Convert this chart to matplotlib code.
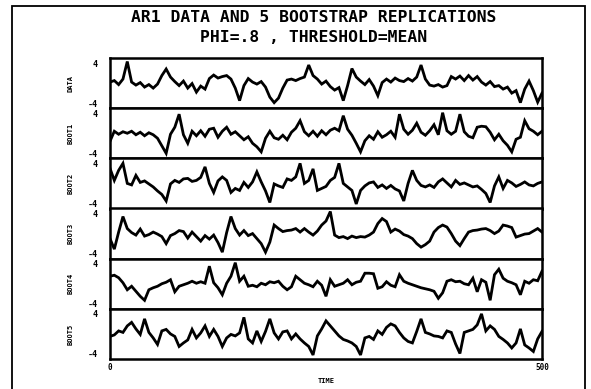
import matplotlib
matplotlib.use("Agg")
import matplotlib.pyplot as plt
from matplotlib.patches import Rectangle
import numpy as np

time = np.arange(0, 501, 5)

data = [0.2, 0.5, -0.3, 0.8, 4.3, 0.2, -0.4, 0.1, -0.8, -0.3,
        -1.0, -0.2, 1.5, 2.8, 1.2, 0.3, -0.5, 0.4, -1.0, -0.1,
        -1.8, -0.6, -1.2, 0.9, 1.6, 1.0, 1.3, 1.5, 0.8, -1.0,
        -3.5, -0.5, 0.9, 0.2, -0.2, 0.3, -0.8, -2.8, -3.9, -3.0,
        -1.0, 0.6, 0.8, 0.5, 0.9, 1.2, 3.6, 1.5, 0.8, -0.2,
        0.4, -0.7, -1.4, -0.9, -3.5, -0.5, 2.9, 1.2, 0.4, -0.3,
        0.7, -0.6, -2.5, 0.1, 0.8, 0.2, 1.0, 0.5, 0.3, 0.9,
        0.4, 1.2, 3.6, 0.8, -0.4, -0.6, -0.3, -0.8, -0.5, 1.3,
        0.8, 1.4, 0.5, 1.5, 0.6, 1.3, 0.2, -0.4, 0.3, -0.7,
        -0.5, -1.2, -0.8, -2.0, -1.5, -3.9, -1.2, 0.4, -1.5, -3.8,
        -2.0]

boot1 = [-1.6, 0.4, -0.2, 0.3, 0.0, 0.4, -0.3, 0.2, -0.5, 0.1,
         -0.3, -1.0, -2.5, -4.0, -0.2, 1.2, 3.8, -0.3, -2.0, 0.4,
         -0.5, 0.5, -0.6, 0.8, 1.0, -0.8, 0.4, 1.2, -0.2, 0.3,
         -0.5, -1.3, -0.7, -2.0, -2.7, -3.7, -1.0, 0.4, -0.9, -1.2,
         -0.4, -1.3, 0.2, 1.0, 2.5, 0.3, -0.5, 0.4, -0.6, 0.5,
         -0.3, 0.6, 1.0, 0.5, 3.5, 0.8, -0.4, -2.0, -3.7, -1.5,
         -0.5, -1.2, 0.3, -0.8, -0.3, 0.4, -0.8, 3.8, 0.8, -0.2,
         0.6, 2.0, 0.2, -0.4, 0.5, 1.7, -0.3, 4.1, 0.5, -0.2,
         0.4, 3.8, 0.3, -0.6, -0.9, 1.2, 1.4, 1.3, 0.2, -1.3,
         -0.2, -1.5, -2.4, -3.7, -1.2, -0.8, 2.5, 0.9, 0.4, -0.3,
         0.4]

boot2 = [3.0, 0.6, 2.6, 4.0, 0.0, -0.3, 1.6, 0.2, 0.5, -0.1,
         -0.7, -1.5, -2.2, -3.5, -0.1, 0.6, 0.2, 0.9, 1.0, 0.4,
         0.6, 1.2, 3.3, 0.0, -1.8, 0.5, 1.3, 0.6, -1.8, -1.0,
         -1.4, 0.2, -0.8, 0.3, 2.3, 0.3, -1.5, -3.8, -0.1, -0.5,
         -0.8, 0.9, 0.6, 1.3, 4.0, 0.0, 0.6, 2.9, -1.4, -1.0,
         -0.6, 0.6, 1.2, 4.0, 0.0, -0.7, -1.4, -4.1, -1.4, -0.5,
         0.1, 0.3, -0.8, -0.3, -1.0, -0.4, -1.1, -1.5, -3.5, 0.0,
         2.6, 0.6, -0.4, -0.7, -0.3, -0.8, 0.3, 0.9, 0.1, -0.7,
         0.6, -0.2, 0.1, -0.3, -0.7, -0.5, -1.2, -2.0, -3.8, -0.5,
         1.3, -1.0, 0.6, 0.1, -0.6, -0.2, 0.3, -0.3, -0.5, 0.0,
         0.3]

boot3 = [-1.0, -3.1, 0.3, 3.4, 1.0, 0.2, -0.3, 0.9, -0.5, -0.2,
         0.3, -0.1, -0.6, -2.0, -0.4, 0.0, 0.6, 0.4, -0.9, 0.3,
         -0.6, -1.5, -0.4, -1.1, -0.3, -1.8, -3.7, 0.2, 3.4, 1.0,
         -0.3, 0.6, -0.4, 0.0, -1.0, -2.0, -3.7, -1.7, 1.7, 1.0,
         0.4, 0.6, 0.7, 1.0, 0.3, 1.0, 0.3, -0.3, 0.5, 1.7,
         2.5, 4.4, -0.3, -0.8, -0.6, -1.0, -0.5, -0.8, -0.6, -0.7,
         -0.3, 0.3, 2.0, 3.0, 2.4, 0.3, 0.9, 0.5, -0.2, -0.5,
         -1.0, -2.0, -2.7, -2.2, -1.5, 0.3, 1.2, 1.7, 1.3, 0.0,
         -1.5, -2.4, -1.0, 0.3, 0.6, 0.7, 0.9, 1.0, 0.6, 0.0,
         0.5, 1.7, 1.5, 1.2, -0.7, -0.4, -0.1, 0.0, 0.5, 1.0,
         0.3]

boot4 = [1.5, 1.7, 1.2, 0.2, -1.2, -0.5, -1.5, -2.5, -3.3, -1.2,
         -0.8, -0.5, 0.0, 0.3, 0.8, -1.6, -0.5, -0.2, 0.1, 0.5,
         0.1, 0.4, 0.1, 3.5, 0.2, -0.8, -2.2, 0.1, 1.5, 4.2,
         0.5, 1.5, -0.5, -0.3, -0.6, 0.1, -0.2, 0.4, 0.2, 0.5,
         -0.5, -1.2, -0.6, 1.5, 0.8, 0.1, -0.2, -0.6, 0.5, -0.3,
         -2.5, 0.8, -0.5, -0.2, 0.1, 0.8, -0.2, 0.3, 0.5, 2.1,
         2.1, 2.0, -0.9, -0.6, 0.4, -0.3, -0.6, 1.8, 0.5, 0.1,
         -0.2, -0.5, -0.8, -1.0, -1.2, -1.5, -2.9, -1.8, 0.5, 0.8,
         0.4, 0.5, 0.0, -0.2, 1.1, -1.6, 0.8, 0.3, -3.3, 1.8,
         2.9, 1.1, 0.5, 0.2, -0.2, -2.2, 0.5, 0.1, 0.8, 0.6,
         2.5]

boot5 = [-0.5, -0.2, 0.6, 0.3, 1.6, 2.3, 1.0, -0.1, 3.0, 0.3,
         -0.8, -2.1, 0.6, 0.9, 0.0, -0.5, -2.5, -1.8, -1.2, 0.9,
         -0.8, 0.2, 1.6, -0.5, 0.9, -0.5, -2.5, -0.8, -0.1, -0.4,
         0.2, 3.3, -1.0, -1.8, 0.6, -1.5, 0.5, 3.0, 0.2, -1.0,
         0.4, 0.6, -1.0, 0.0, -1.0, -1.8, -2.5, -4.2, -0.4, 1.0,
         2.6, 1.6, 0.6, -0.4, -1.1, -1.4, -1.8, -2.5, -4.2, -0.8,
         -0.5, -1.1, 0.6, -0.1, 1.3, 2.0, 1.6, 0.3, -0.8, -1.5,
         -1.8, 0.5, 3.0, 0.3, 0.0, -0.4, -0.5, -0.8, 0.6, 0.3,
         -2.0, -3.9, 0.3, 0.6, 0.9, 1.8, 4.0, 0.6, 1.6, 0.9,
         -0.5, -1.1, -1.8, -2.8, -1.8, 1.0, -2.2, -2.8, -3.5, -1.0,
         0.5]

series = [data, boot1, boot2, boot3, boot4, boot5]
panel_labels = ["DATA", "BOOT1", "BOOT2", "BOOT3", "BOOT4", "BOOT5"]
y_ticks = [-4, 4]
x_ticks = [0, 500]

W, H = 591, 389
plt.rcParams["font.family"] = ["DejaVu Sans Mono", "DejaVu Sans"]
plt.rcParams["font.weight"] = "bold"

fig, axes = plt.subplots(6, 1, sharex=True, figsize=(W / 100, H / 100), dpi=100)
fig.subplots_adjust(left=110 / W, right=542 / W, top=1 - 58 / H,
                    bottom=1 - 359 / H, hspace=0)

for ax, y, lab in zip(axes, series, panel_labels):
    ax.plot(time, y, color="black", linewidth=2.0, solid_joinstyle="miter")
    ax.set_ylim(-5, 5)
    ax.set_xlim(0, 500)
    ax.set_yticks(y_ticks)
    ax.set_yticklabels([str(v) for v in y_ticks], fontsize=6, fontweight="bold")
    ax.tick_params(axis="y", length=0, pad=9)
    ax.tick_params(axis="x", length=0, pad=3, labelsize=5.5)
    ax.set_ylabel(lab, fontsize=5, fontweight="bold", labelpad=10)
    for s in ax.spines.values():
        s.set_linewidth(1.8)

axes[-1].set_xticks(x_ticks)
axes[-1].set_xticklabels([str(v) for v in x_ticks], fontweight="bold")

fig.text(326 / W, 1 - 381 / H, "TIME", ha="center", va="center",
         fontsize=5, fontweight="bold")

fig.text(0.53, 1 - 17 / H, "AR1 DATA AND 5 BOOTSTRAP REPLICATIONS",
         ha="center", va="center", fontsize=11.8, fontweight="bold")
fig.text(0.53, 1 - 37 / H, "PHI=.8 , THRESHOLD=MEAN",
         ha="center", va="center", fontsize=11.8, fontweight="bold")

# outer frame of the scanned page
fig.add_artist(Rectangle((12 / W, -0.05), (585 - 12) / W, 1.05 - 6 / H,
                         transform=fig.transFigure, fill=False,
                         edgecolor="black", linewidth=1.3))

fig.savefig("out.png", dpi=100)
